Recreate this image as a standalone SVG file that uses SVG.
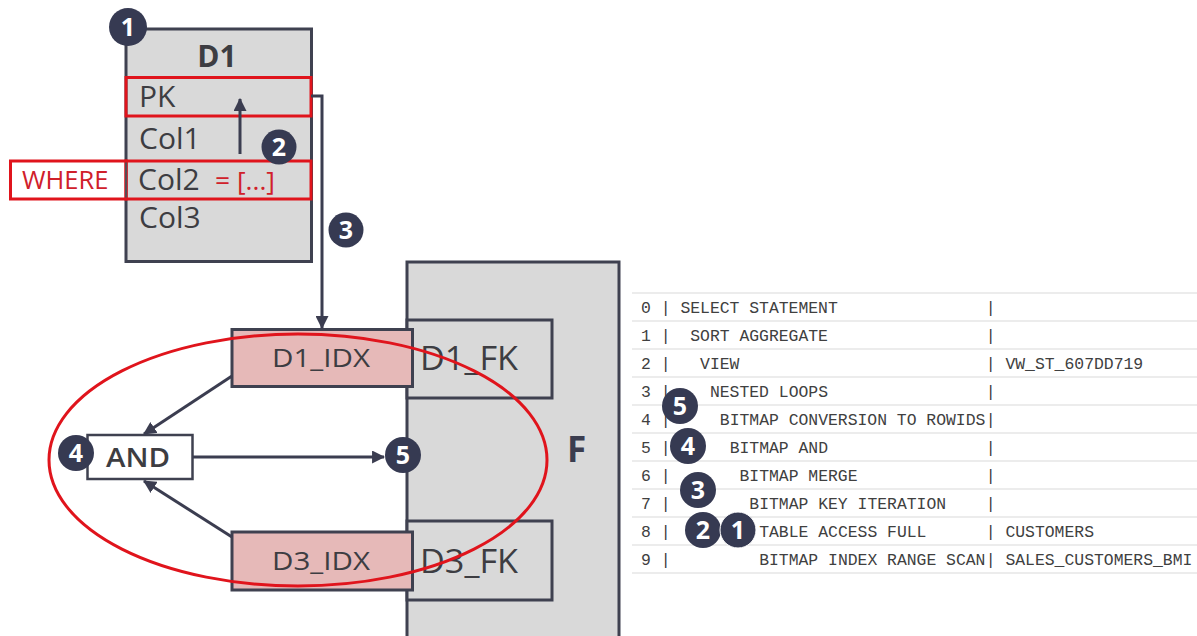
<svg xmlns="http://www.w3.org/2000/svg" width="1197" height="636" viewBox="0 0 1197 636">
<style>
.tbl{fill:#d9d9d9;stroke:#3f4150;stroke-width:3}
.idx{fill:#e6b9b8;stroke:#3f4150;stroke-width:3}
.red{fill:none;stroke:#e0141c;stroke-width:3}
.lbl{font-family:"Open Sans","Liberation Sans",sans-serif;fill:#3d3d42}
.badge circle{fill:#363a52}
.badge text{font-family:"Open Sans","Liberation Sans",sans-serif;font-weight:700;fill:#fff;font-size:25px;text-anchor:middle}
.conn{fill:none;stroke:#3b3d50;stroke-width:3}
.plan text{font-family:"Liberation Mono","DejaVu Sans Mono",monospace;font-size:16.4px;fill:#404040}
.sep{stroke:#e6e6e6;stroke-width:1.5}
</style>
<defs>
<marker id="ah" viewBox="0 0 12 12" refX="11" refY="6" markerWidth="13" markerHeight="13" markerUnits="userSpaceOnUse" orient="auto">
<path d="M0,0 L12,6 L0,12 z" fill="#3b3d50"/>
</marker>
</defs>
<rect width="1197" height="636" fill="#ffffff"/>

<g id="D1">
<rect class="tbl" x="126" y="29" width="185.5" height="232.5"/>
<text class="lbl" x="217" y="67" font-size="30" font-weight="700" text-anchor="middle">D1</text>
<rect class="red" x="126" y="77.5" width="185" height="38.5"/>
<text class="lbl" x="139" y="107" font-size="30">PK</text>
<text class="lbl" x="139" y="149" font-size="30">Col1</text>
<rect x="10.5" y="161" width="115.5" height="38" fill="#ffffff" stroke="#e0141c" stroke-width="3"/>
<rect class="red" x="126" y="161" width="185" height="38"/>
<line x1="126" y1="162.5" x2="126" y2="197.5" stroke="#5a4a52" stroke-width="2"/>
<text x="22" y="189" font-family="'Open Sans','Liberation Sans',sans-serif" font-size="25.5" fill="#d0202a">WHERE</text>
<text class="lbl" x="138" y="190" font-size="30">Col2</text>
<text x="215" y="190" font-family="'Open Sans','Liberation Sans',sans-serif" font-size="25" fill="#d0202a" textLength="60" lengthAdjust="spacingAndGlyphs">= [...]</text>
<text class="lbl" x="139" y="228" font-size="30">Col3</text>
</g>

<g id="F">
<rect class="tbl" x="407" y="262" width="212" height="390"/>
<text x="567" y="462" font-family="'Open Sans','Liberation Sans',sans-serif" font-size="35" font-weight="700" fill="#3b3d4f">F</text>
</g>
<g id="D1_FK">
<rect class="tbl" x="407" y="320" width="145" height="78"/>
<text class="lbl" x="420" y="370" font-size="32" textLength="98" lengthAdjust="spacingAndGlyphs">D1_FK</text>
</g>
<g id="D3_FK">
<rect class="tbl" x="407" y="521" width="145" height="79"/>
<text class="lbl" x="420" y="573" font-size="32" textLength="98" lengthAdjust="spacingAndGlyphs">D3_FK</text>
</g>
<g id="D1_IDX">
<rect class="idx" x="232" y="329.5" width="180.5" height="57"/>
<text class="lbl" x="272" y="367" font-size="26" font-weight="500" textLength="98" lengthAdjust="spacingAndGlyphs">D1_IDX</text>
</g>
<g id="D3_IDX">
<rect class="idx" x="232" y="532" width="180.5" height="58"/>
<text class="lbl" x="272" y="570" font-size="26" font-weight="500" textLength="98" lengthAdjust="spacingAndGlyphs">D3_IDX</text>
</g>
<g id="AND">
<rect x="87.5" y="435" width="105" height="44" fill="#ffffff" stroke="#3f4150" stroke-width="2.5"/>
<text class="lbl" x="106" y="467" font-size="27" font-weight="600" textLength="64" lengthAdjust="spacingAndGlyphs">AND</text>
</g>

<g id="connectors">
<path class="conn" d="M311,96 H322 V328" marker-end="url(#ah)"/>
<path class="conn" d="M240,154 V99" marker-end="url(#ah)"/>
<path class="conn" d="M232,376 L144,434" marker-end="url(#ah)"/>
<path class="conn" d="M232,537 L144,481" marker-end="url(#ah)"/>
<path class="conn" d="M193,457 H384" marker-end="url(#ah)"/>
</g>

<g id="highlight">
<ellipse class="red" cx="298" cy="460" rx="249" ry="126"/>
</g>

<g id="badges" class="badge">
<g id="b1"><circle cx="128" cy="27" r="19"/><text x="128" y="36">1</text></g>
<g id="b2"><circle cx="279" cy="147" r="17.5"/><text x="279" y="156">2</text></g>
<g id="b3"><circle cx="346" cy="230" r="17.5"/><text x="346" y="239">3</text></g>
<g id="b4"><circle cx="76" cy="453" r="18"/><text x="76" y="462">4</text></g>
<g id="b5"><circle cx="403" cy="455" r="18"/><text x="403" y="464">5</text></g>
</g>

<g id="plan" class="plan">
<line class="sep" x1="632" y1="293" x2="1197" y2="293"/>
<line class="sep" x1="632" y1="321" x2="1197" y2="321"/>
<line class="sep" x1="632" y1="349" x2="1197" y2="349"/>
<line class="sep" x1="632" y1="377" x2="1197" y2="377"/>
<line class="sep" x1="632" y1="405" x2="1197" y2="405"/>
<line class="sep" x1="632" y1="433" x2="1197" y2="433"/>
<line class="sep" x1="632" y1="461" x2="1197" y2="461"/>
<line class="sep" x1="632" y1="489" x2="1197" y2="489"/>
<line class="sep" x1="632" y1="517" x2="1197" y2="517"/>
<line class="sep" x1="632" y1="545" x2="1197" y2="545"/>
<line class="sep" x1="632" y1="573" x2="1197" y2="573"/>

<text x="641" y="312.5">0</text><text x="660.7" y="312.5">|</text><text x="680.4" y="312.5">SELECT STATEMENT</text><text x="985.75" y="312.5">|</text>
<text x="641" y="340.5">1</text><text x="660.7" y="340.5">|</text><text x="690.25" y="340.5">SORT AGGREGATE</text><text x="985.75" y="340.5">|</text>
<text x="641" y="368.5">2</text><text x="660.7" y="368.5">|</text><text x="700.1" y="368.5">VIEW</text><text x="985.75" y="368.5">|</text><text x="1005.45" y="368.5">VW_ST_607DD719</text>
<text x="641" y="396.5">3</text><text x="660.7" y="396.5">|</text><text x="709.95" y="396.5">NESTED LOOPS</text><text x="985.75" y="396.5">|</text>
<text x="641" y="424.5">4</text><text x="660.7" y="424.5">|</text><text x="719.8" y="424.5">BITMAP CONVERSION TO ROWIDS</text><text x="985.75" y="424.5">|</text>
<text x="641" y="452.5">5</text><text x="660.7" y="452.5">|</text><text x="729.65" y="452.5">BITMAP AND</text><text x="985.75" y="452.5">|</text>
<text x="641" y="480.5">6</text><text x="660.7" y="480.5">|</text><text x="739.5" y="480.5">BITMAP MERGE</text><text x="985.75" y="480.5">|</text>
<text x="641" y="508.5">7</text><text x="660.7" y="508.5">|</text><text x="749.35" y="508.5">BITMAP KEY ITERATION</text><text x="985.75" y="508.5">|</text>
<text x="641" y="536.5">8</text><text x="660.7" y="536.5">|</text><text x="759.2" y="536.5">TABLE ACCESS FULL</text><text x="985.75" y="536.5">|</text><text x="1005.45" y="536.5">CUSTOMERS</text>
<text x="641" y="564.5">9</text><text x="660.7" y="564.5">|</text><text x="759.2" y="564.5">BITMAP INDEX RANGE SCAN</text><text x="985.75" y="564.5">|</text><text x="1005.45" y="564.5">SALES_CUSTOMERS_BMI</text>
</g>

<g id="plan-badges" class="badge">
<g id="p5"><circle cx="680" cy="406" r="18"/><text x="680" y="415">5</text></g>
<g id="p4"><circle cx="688" cy="446" r="18"/><text x="688" y="455">4</text></g>
<g id="p3"><circle cx="698" cy="490" r="18"/><text x="698" y="499">3</text></g>
<g id="p2"><circle cx="703" cy="530" r="18"/><text x="703" y="539">2</text></g>
<g id="p1"><circle cx="738" cy="530" r="18" stroke="#ffffff" stroke-width="1"/><text x="738" y="539">1</text></g>
</g>
</svg>
